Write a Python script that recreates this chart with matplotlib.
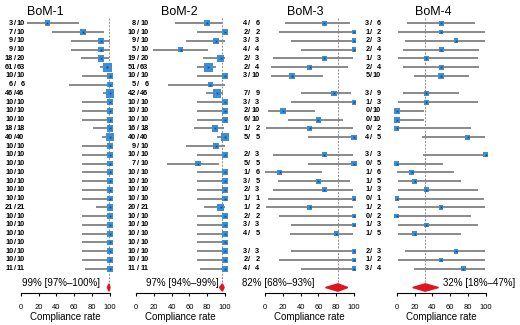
import numpy as np
import matplotlib
matplotlib.use('Agg')
import matplotlib.pyplot as plt
from matplotlib.patches import Polygon

plt.rcParams['font.family'] = ['Liberation Sans', 'DejaVu Sans']

# ---------------------------------------
# Data
# ---------------------------------------
ev1 = [3, 7, 9, 9, 18, 61, 10, 6, 46, 10, 10, 10, 18, 40, 10, 10, 10, 10, 10, 10, 10, 21, 10, 10, 10, 10, 10, 10, 11]
n1 = [10, 10, 10, 10, 20, 63, 10, 6, 46, 10, 10, 10, 18, 40, 10, 10, 10, 10, 10, 10, 10, 21, 10, 10, 10, 10, 10, 10, 11]
lo1 = [7, 35, 56, 56, 68, 89, 69, 54, 92, 69, 69, 69, 81, 91, 69, 69, 69, 69, 69, 69, 69, 84, 69, 69, 69, 69, 69, 69, 72]
hi1 = [65, 93, 100, 100, 99, 100, 100, 100, 100, 100, 100, 100, 100, 100, 100, 100, 100, 100, 100, 100, 100, 100, 100, 100, 100, 100, 100, 100, 100]

ev2 = [8, 10, 9, 5, 19, 51, 10, 5, 42, 10, 10, 10, 16, 40, 9, 10, 7, 10, 10, 10, 10, 20, 10, 10, 10, 10, 10, 10, 11]
n2 = [10, 10, 10, 10, 20, 63, 10, 6, 46, 10, 10, 10, 18, 40, 10, 10, 10, 10, 10, 10, 10, 21, 10, 10, 10, 10, 10, 10, 11]
lo2 = [44, 69, 56, 19, 75, 69, 69, 36, 79, 69, 69, 69, 65, 91, 56, 69, 35, 69, 69, 69, 69, 76, 69, 69, 69, 69, 69, 69, 72]
hi2 = [97, 100, 100, 81, 100, 90, 100, 100, 98, 100, 100, 100, 99, 100, 100, 100, 93, 100, 100, 100, 100, 100, 100, 100, 100, 100, 100, 100, 100]

groups34 = [7, 6, 10, 3]

ev3 = [4, 2, 3, 4, 2, 2, 3, 7, 3, 2, 6, 1, 5, 2, 5, 1, 3, 2, 1, 1, 2, 3, 4, 3, 2, 4]
n3 = [6, 2, 3, 4, 3, 4, 10, 9, 3, 10, 10, 2, 5, 3, 5, 6, 5, 3, 1, 2, 2, 3, 5, 3, 2, 4]
lo3 = [22, 16, 29, 40, 9, 7, 7, 40, 29, 3, 26, 1, 48, 9, 48, 0, 15, 9, 3, 1, 16, 29, 28, 29, 16, 40]
hi3 = [96, 100, 100, 100, 99, 93, 65, 97, 100, 56, 88, 99, 100, 99, 100, 64, 95, 99, 100, 99, 100, 100, 99, 100, 100, 100]

ev4 = [3, 1, 2, 2, 1, 2, 5, 3, 1, 0, 0, 0, 4, 3, 0, 1, 1, 1, 0, 1, 0, 1, 1, 2, 1, 3]
n4 = [6, 2, 3, 4, 3, 4, 10, 9, 3, 10, 10, 2, 5, 3, 5, 6, 5, 3, 1, 2, 2, 3, 5, 3, 2, 4]
lo4 = [12, 1, 9, 7, 1, 7, 19, 7, 1, 0, 0, 0, 28, 29, 0, 0, 1, 1, 0, 1, 0, 1, 1, 9, 1, 19]
hi4 = [88, 99, 99, 93, 91, 93, 81, 70, 91, 31, 31, 84, 99, 100, 52, 64, 72, 91, 98, 99, 84, 91, 72, 99, 99, 99]

titles = ['BoM-1', 'BoM-2', 'BoM-3', 'BoM-4']
pooled = [99, 97, 82, 32]
pooled_lo = [97, 94, 68, 18]
pooled_hi = [100, 99, 93, 47]

W, H = 520, 325
fig = plt.figure(figsize=(W / 100, H / 100), dpi=100)


def group_rows(sizes):
    rows = []
    r = 0
    for g in sizes:
        rows += list(range(r, r + g))
        r += g + 1
    return rows


def panel(x0, x100, title_px, lab_px, ev, n, lo, hi, rows, k, txt_px, txt_ha):
    s = (x100 - x0) / 100.0
    xmin, xmax = -25, 105
    ax = fig.add_axes([(x0 + xmin * s) / W, 1 - 293.3 / H,
                       (xmax - xmin) * s / W, (293.3 - 15.4) / H])
    ax.set_xlim(xmin, xmax)
    ax.set_ylim(30.8, -0.9)
    ax.patch.set_visible(False)
    for sp in ['top', 'left', 'right']:
        ax.spines[sp].set_visible(False)
    ax.spines['bottom'].set_bounds(0, 100)
    ax.spines['bottom'].set_linewidth(0.8)
    ax.set_yticks([])
    ax.set_xticks([0, 20, 40, 60, 80, 100])
    ax.tick_params(axis='x', length=2.5, width=0.8, labelsize=5.5, pad=5)

    def px(p):
        return (p - x0) / s

    # reference line at pooled estimate
    ax.plot([pooled[k], pooled[k]], [-0.6, 30.1], color='#8c8c8c', lw=0.7,
            ls=(0, (2, 1.5)), zorder=1)

    ev = np.array(ev)
    n = np.array(n)
    p = 100.0 * ev / n
    ax.hlines(rows, lo, hi, color='#808080', lw=1.3, zorder=2)
    size = (3.6 + 0.68 * np.sqrt(n)) * 0.72
    ax.scatter(p, rows, marker='s', s=size ** 2, color='#3a8fd8',
               linewidths=0, zorder=3, clip_on=False)
    ax.scatter(p, rows, marker='x', s=1.5, color='#1b3d6e', lw=0.5,
               zorder=4, clip_on=False)

    for e, t, r in zip(ev, n, rows):
        ax.text(px(lab_px[0]), r, str(e), ha='right', va='center',
                fontsize=5.3, fontweight='bold', clip_on=False)
        ax.text(px(lab_px[1]), r, '/', ha='center', va='center',
                fontsize=5.3, fontweight='bold', clip_on=False)
        ax.text(px(lab_px[2]), r, str(t), ha='right', va='center',
                fontsize=5.3, fontweight='bold', clip_on=False)

    # pooled diamond
    yd, h = 30.14, 0.42
    d = Polygon([(pooled_lo[k], yd), (pooled[k], yd - h), (pooled_hi[k], yd),
                 (pooled[k], yd + h)], closed=True, color='#e0141e',
                zorder=4, clip_on=False)
    ax.add_patch(d)
    ax.text(px(txt_px), 29.6,
            '%d%% [%d%%\u2013%d%%]' % (pooled[k], pooled_lo[k], pooled_hi[k]),
            ha=txt_ha, va='center', fontsize=7, clip_on=False)

    fig.text(title_px / W, 1 - 12 / H, titles[k], ha='center', va='center', fontsize=9)
    fig.text((x0 + x100) / 2 / W, 1 - 316.7 / H, 'Compliance rate',
             ha='center', va='center', fontsize=7)


rows12 = list(range(29))
rows34 = group_rows(groups34)

panel(20.7, 110, 45, (13.2, 14.9, 24.5), ev1, n1, lo1, hi1, rows12, 0, 100, 'right')
panel(136, 225, 179, (135.8, 137.6, 148.5), ev2, n2, lo2, hi2, rows12, 1, 218.3, 'right')
panel(265, 354, 305, (247.5, 249.3, 259.5), ev3, n3, lo3, hi3, rows34, 2, 315, 'right')
panel(396.7, 485.7, 433, (369.5, 371.3, 381), ev4, n4, lo4, hi4, rows34, 3, 443.3, 'left')

fig.savefig('out.png', dpi=100)
